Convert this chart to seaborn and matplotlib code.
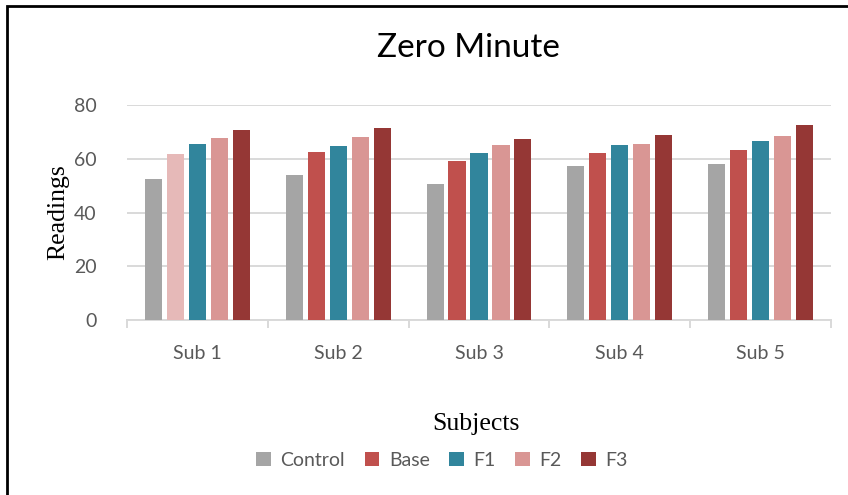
import matplotlib
matplotlib.use("Agg")
import matplotlib.pyplot as plt
from matplotlib.patches import Patch, Rectangle
import seaborn as sns
import pandas as pd

# Readings per subject for each formulation
subjects = ["Sub 1", "Sub 2", "Sub 3", "Sub 4", "Sub 5"]
series = ["Control", "Base", "F1", "F2", "F3"]
control = [52.5, 54.0, 50.7, 57.2, 58.0]
base = [61.8, 62.6, 59.2, 62.1, 63.3]
f1 = [65.4, 64.6, 62.3, 65.2, 66.6]
f2 = [67.8, 68.1, 65.2, 65.4, 68.5]
f3 = [70.6, 71.3, 67.2, 68.9, 72.7]
yticks = [0, 20, 40, 60, 80]

colors = ["#A5A5A5", "#C0504D", "#31859C", "#D99694", "#953735"]
sub1_base_color = "#E6B9B8"

rows = []
for name, vals in zip(series, [control, base, f1, f2, f3]):
    for s, v in zip(subjects, vals):
        rows.append({"Subject": s, "Series": name, "Reading": v})
df = pd.DataFrame(rows)

sns.set_theme(style="white")
plt.rcParams["font.family"] = ["Lato", "DejaVu Sans"]

fig = plt.figure(figsize=(8.48, 4.95), dpi=100)
ax = fig.add_axes([127 / 848, 1 - 320 / 495, (831 - 127) / 848, (320 - 105) / 495])

sns.barplot(data=df, x="Subject", y="Reading", hue="Series", order=subjects,
            hue_order=series, palette=colors, saturation=1, width=0.78, gap=0.22,
            linewidth=0, errorbar=None, legend=False, ax=ax, zorder=3)

# first subject's Base bar is shaded lighter
ax.containers[1][0].set_facecolor(sub1_base_color)

grid_c = "#D9D9D9"
ax.set_ylim(0, 80)
ax.set_xlim(-0.5, 4.5)
ax.set_yticks(yticks)
ax.yaxis.grid(True, color=grid_c, linewidth=1.4, zorder=0)
ax.xaxis.grid(False)
for side in ["top", "right", "left"]:
    ax.spines[side].set_visible(False)
ax.spines["bottom"].set_color(grid_c)
ax.spines["bottom"].set_linewidth(1.4)

ax.set_xticks(range(len(subjects)))
ax.set_xticklabels(subjects)
ax.set_xticks([i - 0.5 for i in range(len(subjects) + 1)], minor=True)
ax.tick_params(axis="x", which="major", length=0, pad=18, labelsize=14, labelcolor="#595959")
ax.tick_params(axis="x", which="minor", length=6, width=1.4, color=grid_c, bottom=True)
ax.tick_params(axis="y", length=0, pad=22, labelsize=14, labelcolor="#595959")

ax.set_xlabel("")
ax.set_ylabel("Readings", family=["Liberation Serif"], fontsize=18.5, color="black", labelpad=3)

fig.text(0.552, 1 - 48 / 495, "Zero Minute", ha="center", va="center", fontsize=24, color="black")
fig.text(476 / 848, 1 - 424 / 495, "Subjects", ha="center", va="center",
         family=["Liberation Serif"], fontsize=18.5, color="black")

handles = [Patch(facecolor=c, edgecolor="none") for c in colors]
fig.legend(handles, series, loc="center", bbox_to_anchor=(442 / 848, 1 - 460 / 495), ncol=5,
           frameon=False, fontsize=14, labelcolor="#595959", handlelength=0.75,
           handleheight=0.75, handletextpad=0.5, columnspacing=1.0)

# outer frame
fig.patches.append(Rectangle((7 / 848, -0.05), 1.1, 1 - 6 / 495 + 0.05, transform=fig.transFigure,
                             fill=False, edgecolor="black", linewidth=2, clip_on=False))

fig.savefig("out.png", dpi=100)
